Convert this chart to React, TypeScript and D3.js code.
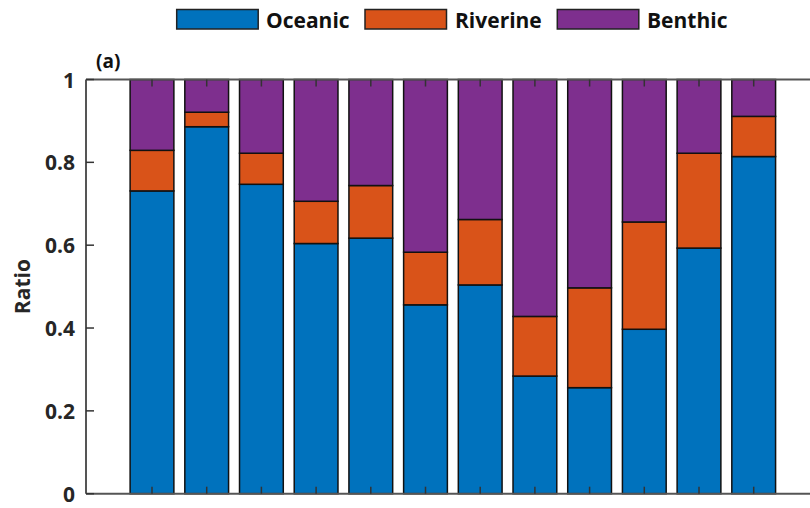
import React from "react";
import * as d3 from "d3";

const categories = [1, 2, 3, 4, 5, 6, 7, 8, 9, 10, 11, 12];
const oceanic = [0.731, 0.886, 0.747, 0.604, 0.617, 0.456, 0.504, 0.284, 0.256, 0.397, 0.593, 0.814];
const riverine = [0.098, 0.035, 0.075, 0.102, 0.127, 0.127, 0.158, 0.144, 0.241, 0.259, 0.229, 0.097];
const benthic = oceanic.map((o, i) => 1 - o - riverine[i]);
const seriesNames = ["Oceanic", "Riverine", "Benthic"];
const seriesColors = ["#0072BD", "#D95319", "#7E2F8E"];
const yTicks = [0, 0.2, 0.4, 0.6, 0.8, 1];
const yTickLabels = ["0", "0.2", "0.4", "0.6", "0.8", "1"];

const W = 810;
const H = 508;
const FONT = "'Open Sans', 'DejaVu Sans', sans-serif";

export default function App() {
  const left = 86;
  const top = 79.5;
  const bottom = 493.7;
  const x = d3.scaleLinear().domain([1, 12]).range([152, 753.7]);
  const step = x(2) - x(1);
  const bw = step * 0.8;
  const y = d3.scaleLinear().domain([0, 1]).range([bottom, top]);

  const rows = categories.map((c, i) => ({
    c,
    Oceanic: oceanic[i],
    Riverine: riverine[i],
    Benthic: benthic[i],
  }));
  const stacked = d3.stack<any>().keys(seriesNames)(rows);

  const legendItems = [
    { box: 176.7, text: 266 },
    { box: 365, text: 455 },
    { box: 557.3, text: 647 },
  ];

  return (
    <div style={{ position: "absolute", left: 0, top: 0 }}>
      <svg width={W} height={H} style={{ display: "block", background: "#fff" }}>
        {/* bars */}
        {stacked.map((s, si) =>
          s.map((d, i) => (
            <rect
              key={si + "-" + i}
              x={x(categories[i]) - bw / 2}
              y={y(d[1])}
              width={bw}
              height={y(d[0]) - y(d[1])}
              fill={seriesColors[si]}
              stroke="#111"
              strokeWidth={1.5}
            />
          ))
        )}
        {/* axes box lines */}
        <line x1={left} x2={W + 10} y1={top} y2={top} stroke="#555" strokeWidth={2} />
        <line x1={left} x2={W + 10} y1={bottom} y2={bottom} stroke="#555" strokeWidth={2} />
        <line x1={left} x2={left} y1={top} y2={bottom} stroke="#555" strokeWidth={2} />
        {/* x ticks */}
        {categories.map((c) => (
          <g key={"xt" + c}>
            <line x1={x(c)} x2={x(c)} y1={top} y2={top + 7} stroke="#333" strokeWidth={1.5} />
            <line x1={x(c)} x2={x(c)} y1={bottom} y2={bottom - 7} stroke="#333" strokeWidth={1.5} />
          </g>
        ))}
        {/* y ticks */}
        {yTicks.map((t, i) => (
          <g key={"yt" + i}>
            <line x1={left} x2={left + 8} y1={y(t)} y2={y(t)} stroke="#333" strokeWidth={1.5} />
            <text
              x={75}
              y={y(t)}
              textAnchor="end"
              dominantBaseline="central"
              fontFamily={FONT}
              fontWeight={700}
              fontSize={21}
              fill="#262626"
            >
              {yTickLabels[i]}
            </text>
          </g>
        ))}
        {/* y label */}
        <text
          transform={`translate(22,${(top + bottom) / 2}) rotate(-90)`}
          textAnchor="middle"
          dominantBaseline="central"
          fontFamily={FONT}
          fontWeight={700}
          fontSize={21}
          fill="#262626"
        >
          Ratio
        </text>
        {/* panel label */}
        <text x={96} y={68} fontFamily={FONT} fontWeight={700} fontSize={19} fill="#111">
          (a)
        </text>
        {/* legend */}
        {seriesNames.map((n, i) => (
          <g key={"lg" + n}>
            <rect
              x={legendItems[i].box}
              y={9.5}
              width={81.5}
              height={19.5}
              fill={seriesColors[i]}
              stroke="#222"
              strokeWidth={1.5}
            />
            <text
              x={legendItems[i].text}
              y={19.5}
              dominantBaseline="central"
              fontFamily={FONT}
              fontWeight={700}
              fontSize={21}
              fill="#111"
            >
              {n}
            </text>
          </g>
        ))}
      </svg>
    </div>
  );
}
